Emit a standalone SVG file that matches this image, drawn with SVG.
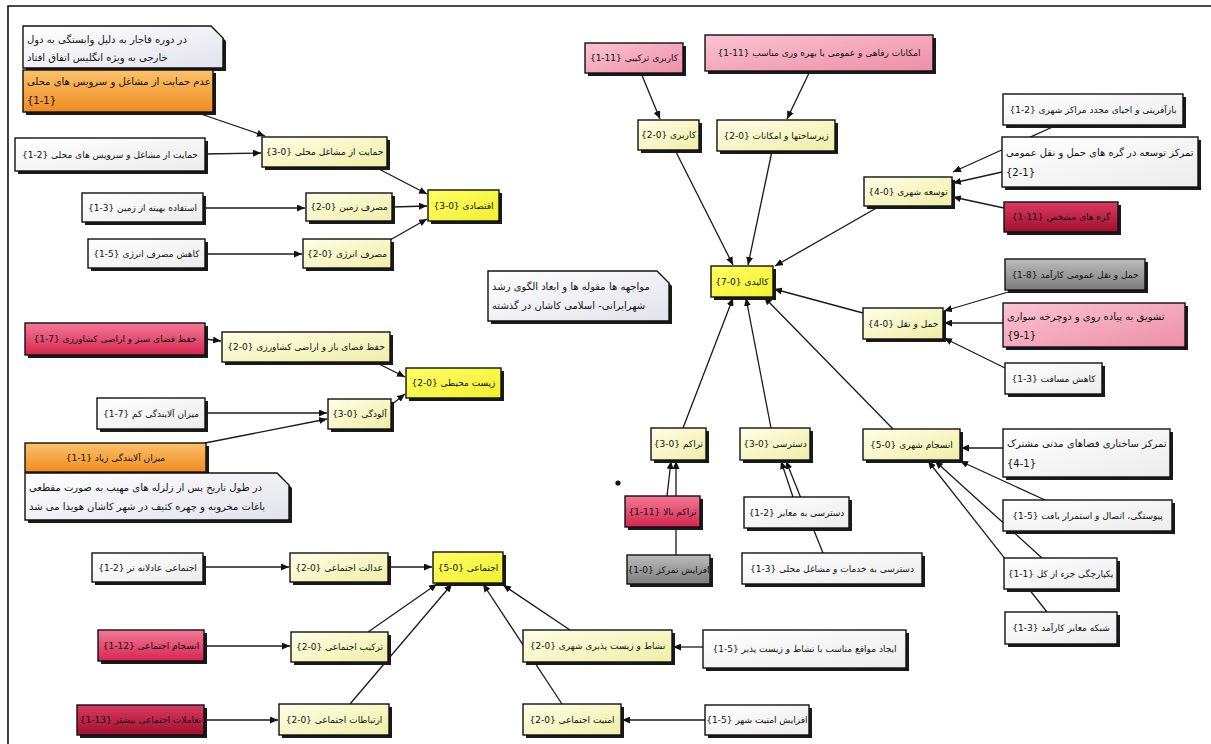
<svg xmlns="http://www.w3.org/2000/svg" width="1211" height="744" viewBox="0 0 1211 744">
<defs>
<linearGradient id="gLY" x1="0" y1="0" x2="1" y2="1"><stop offset="0" stop-color="#ffffe6"/><stop offset="1" stop-color="#eeeea8"/></linearGradient>
<linearGradient id="gYY" x1="0" y1="0" x2="1" y2="1"><stop offset="0" stop-color="#ffff66"/><stop offset="1" stop-color="#f0f030"/></linearGradient>
<linearGradient id="gWH" x1="0" y1="0" x2="1" y2="1"><stop offset="0" stop-color="#ffffff"/><stop offset="1" stop-color="#ececec"/></linearGradient>
<linearGradient id="gPK" x1="0" y1="0" x2="1" y2="1"><stop offset="0" stop-color="#f9c4d2"/><stop offset="1" stop-color="#ee8ea8"/></linearGradient>
<linearGradient id="gRD" x1="0" y1="0" x2="0" y2="1"><stop offset="0" stop-color="#f47a96"/><stop offset="1" stop-color="#d42550"/></linearGradient>
<linearGradient id="gDR" x1="0" y1="0" x2="0" y2="1"><stop offset="0" stop-color="#dc3a62"/><stop offset="1" stop-color="#a0102e"/></linearGradient>
<linearGradient id="gOR" x1="0" y1="0" x2="0" y2="1"><stop offset="0" stop-color="#fbc26a"/><stop offset="1" stop-color="#f08c20"/></linearGradient>
<linearGradient id="gGY" x1="0" y1="0" x2="0" y2="1"><stop offset="0" stop-color="#bcbcbc"/><stop offset="1" stop-color="#7c7c7c"/></linearGradient>
<linearGradient id="gNT" x1="0" y1="0" x2="1" y2="1"><stop offset="0" stop-color="#ffffff"/><stop offset="1" stop-color="#e2e2ec"/></linearGradient>
<marker id="ar" markerUnits="userSpaceOnUse" markerWidth="8" markerHeight="7" refX="8" refY="3.5" orient="auto"><path d="M0,0 L8,3.5 L0,7 z" fill="#111"/></marker>
<style>
.b{stroke:#111;stroke-width:1.4}
.sh{fill:#1a1a1a}
.ly{fill:url(#gLY)}.yy{fill:url(#gYY)}.wh{fill:url(#gWH)}.pk{fill:url(#gPK)}
.rd{fill:url(#gRD)}.dr{fill:url(#gDR)}.or{fill:url(#gOR)}.gy{fill:url(#gGY)}.nt{fill:url(#gNT)}
.t{font-family:"DejaVu Sans",sans-serif;font-size:9px;fill:#111;text-anchor:middle}
.tl{font-family:"DejaVu Sans",sans-serif;font-size:10px;fill:#111;text-anchor:start}
.c{fill:none;stroke:#1a1a1a;stroke-width:1.3;marker-end:url(#ar)}
</style>
</defs>
<rect x="0" y="0" width="1211" height="744" fill="#ffffff"/>
<path d="M8,744 V6 H1211" fill="none" stroke="#111" stroke-width="1.6"/>

<g id="connectors">
<line class="c" x1="195" y1="112" x2="265" y2="136"/>
<line class="c" x1="205" y1="154" x2="261" y2="153"/>
<line class="c" x1="375" y1="167" x2="427" y2="194"/>
<line class="c" x1="203" y1="208" x2="305" y2="208"/>
<line class="c" x1="392" y1="207" x2="427" y2="206"/>
<line class="c" x1="205" y1="254" x2="302" y2="254"/>
<line class="c" x1="390" y1="240" x2="427" y2="219"/>
<line class="c" x1="205" y1="339" x2="221" y2="341"/>
<line class="c" x1="375" y1="362" x2="405" y2="377"/>
<line class="c" x1="205" y1="413" x2="327" y2="413"/>
<line class="c" x1="205" y1="443" x2="327" y2="419"/>
<line class="c" x1="391" y1="405" x2="405" y2="394"/>
<line class="c" x1="203" y1="567" x2="289" y2="567"/>
<line class="c" x1="388" y1="567" x2="432" y2="567"/>
<line class="c" x1="204" y1="646" x2="290" y2="646"/>
<line class="c" x1="368" y1="632" x2="437" y2="584"/>
<line class="c" x1="204" y1="720" x2="278" y2="720"/>
<line class="c" x1="350" y1="704" x2="452" y2="584"/>
<line class="c" x1="570" y1="630" x2="503" y2="585"/>
<line class="c" x1="562" y1="704" x2="483" y2="584"/>
<line class="c" x1="703" y1="647" x2="673" y2="647"/>
<line class="c" x1="705" y1="720" x2="622" y2="720"/>
<line class="c" x1="641" y1="73" x2="660" y2="119"/>
<line class="c" x1="810" y1="71" x2="787" y2="119"/>
<line class="c" x1="675" y1="150" x2="733" y2="265"/>
<line class="c" x1="772" y1="151" x2="748" y2="265"/>
<line class="c" x1="880" y1="206" x2="775" y2="266"/>
<line class="c" x1="863" y1="313" x2="774" y2="289"/>
<line class="c" x1="893" y1="429" x2="764" y2="297"/>
<line class="c" x1="771" y1="428" x2="746" y2="298"/>
<line class="c" x1="683" y1="428" x2="733" y2="298"/>
<line class="c" x1="667" y1="496" x2="671" y2="461"/>
<line class="c" x1="676" y1="555" x2="676" y2="461"/>
<line class="c" x1="793" y1="497" x2="781" y2="461"/>
<line class="c" x1="823" y1="553" x2="786" y2="461"/>
<line class="c" x1="1057" y1="125" x2="953" y2="172"/>
<line class="c" x1="1002" y1="172" x2="953" y2="183"/>
<line class="c" x1="1004" y1="208" x2="953" y2="197"/>
<line class="c" x1="1015" y1="290" x2="944" y2="311"/>
<line class="c" x1="1003" y1="323" x2="944" y2="323"/>
<line class="c" x1="1005" y1="368" x2="944" y2="338"/>
<line class="c" x1="1003" y1="448" x2="961" y2="448"/>
<line class="c" x1="1045" y1="500" x2="960" y2="461"/>
<line class="c" x1="1042" y1="558" x2="935" y2="461"/>
<line class="c" x1="1047" y1="612" x2="928" y2="461"/>
</g>

<circle cx="618" cy="483" r="2.6" fill="#111"/>

<g id="note1"><path class="sh" d="M26,29 H214 L226,41 V71 H26 Z"/><path class="b nt" d="M23,26 H211 L223,38 V68 H23 Z"/><text class="tl" x="27" y="43">در دوره قاجار به دلیل وابستگی به دول</text><text class="tl" x="27" y="61">خارجی به ویژه انگلیس اتفاق افتاد</text></g>
<g id="n_orange1"><rect class="sh" x="26" y="73" width="190" height="42"/><rect class="b or" x="23" y="70" width="190" height="42"/><text class="tl" x="27" y="85">عدم حمایت از مشاغل و سرویس های محلی</text><text class="tl" x="27" y="104">{1-1}</text></g>
<g id="n_localjobs"><rect class="sh" x="265" y="140" width="125" height="30"/><rect class="b ly" x="262" y="137" width="125" height="30"/><text class="t" x="324.5" y="155">حمایت از مشاغل محلی {0-3}</text></g>
<g id="n_leafA"><rect class="sh" x="18" y="141" width="190" height="33"/><rect class="b wh" x="15" y="138" width="190" height="33"/><text class="t" x="110" y="158">حمایت از مشاغل و سرویس های محلی {2-1}</text></g>
<g id="n_land"><rect class="sh" x="85" y="196" width="121" height="29"/><rect class="b wh" x="82" y="193" width="121" height="29"/><text class="t" x="142.5" y="211">استفاده بهینه از زمین {3-1}</text></g>
<g id="n_landuse"><rect class="sh" x="309" y="196" width="86" height="28"/><rect class="b ly" x="306" y="193" width="86" height="28"/><text class="t" x="349" y="210">مصرف زمین {0-2}</text></g>
<g id="n_econ"><rect class="sh" x="431" y="193" width="71" height="31"/><rect class="b yy" x="428" y="190" width="71" height="31"/><text class="t" x="463.5" y="209">اقتصادی {0-3}</text></g>
<g id="n_energyLeaf"><rect class="sh" x="91" y="242" width="117" height="29"/><rect class="b wh" x="88" y="239" width="117" height="29"/><text class="t" x="146.5" y="257">کاهش مصرف انرژی {5-1}</text></g>
<g id="n_energy"><rect class="sh" x="306" y="242" width="88" height="29"/><rect class="b ly" x="303" y="239" width="88" height="29"/><text class="t" x="347" y="257">مصرف انرژی {0-2}</text></g>

<g id="n_green"><rect class="sh" x="28" y="326" width="180" height="32"/><rect class="b rd" x="25" y="323" width="180" height="32"/><text class="t" x="115" y="342">حفظ فضای سبز و اراضی کشاورزی {7-1}</text></g>
<g id="n_open"><rect class="sh" x="225" y="335" width="168" height="30"/><rect class="b ly" x="222" y="332" width="168" height="30"/><text class="t" x="306" y="350">حفظ فضای باز و اراضی کشاورزی {0-2}</text></g>
<g id="n_env"><rect class="sh" x="409" y="371" width="95" height="30"/><rect class="b yy" x="406" y="368" width="95" height="30"/><text class="t" x="453.5" y="386">زیست محیطی {0-2}</text></g>
<g id="n_lowPoll"><rect class="sh" x="100" y="401" width="108" height="31"/><rect class="b wh" x="97" y="398" width="108" height="31"/><text class="t" x="151" y="417">میزان آلایندگی کم {7-1}</text></g>
<g id="n_poll"><rect class="sh" x="331" y="402" width="63" height="30"/><rect class="b ly" x="328" y="399" width="63" height="30"/><text class="t" x="359.5" y="417">آلودگی {0-3}</text></g>
<g id="n_highPoll"><rect class="sh" x="28" y="446" width="181" height="29"/><rect class="b or" x="25" y="443" width="181" height="29"/><text class="t" x="115.5" y="461">میزان آلایندگی زیاد {1-1}</text></g>
<g id="note2"><path class="sh" d="M28,476 H280 L292,488 V523 H28 Z"/><path class="b nt" d="M25,473 H277 L289,485 V520 H25 Z"/><text class="tl" x="29" y="491">در طول تاریخ پس از زلزله های مهیب به صورت مقطعی</text><text class="tl" x="29" y="510">باغات مخروبه و چهره کثیف در شهر کاشان هویدا می شد</text></g>

<g id="n_fair"><rect class="sh" x="95" y="556" width="111" height="29"/><rect class="b wh" x="92" y="553" width="111" height="29"/><text class="t" x="147.5" y="571">اجتماعی عادلانه تر {2-1}</text></g>
<g id="n_justice"><rect class="sh" x="293" y="556" width="98" height="29"/><rect class="b ly" x="290" y="553" width="98" height="29"/><text class="t" x="339" y="571">عدالت اجتماعی {0-2}</text></g>
<g id="n_cohesion"><rect class="sh" x="101" y="633" width="106" height="31"/><rect class="b rd" x="98" y="630" width="106" height="31"/><text class="t" x="151" y="649">انسجام اجتماعی {12-1}</text></g>
<g id="n_mix"><rect class="sh" x="294" y="635" width="97" height="30"/><rect class="b ly" x="291" y="632" width="97" height="30"/><text class="t" x="339.5" y="650">ترکیب اجتماعی {0-2}</text></g>
<g id="n_interact"><rect class="sh" x="80" y="708" width="127" height="30"/><rect class="b dr" x="77" y="705" width="127" height="30"/><text class="t" x="140.5" y="723">تعاملات اجتماعی بیشتر {13-1}</text></g>
<g id="n_relations"><rect class="sh" x="282" y="707" width="110" height="31"/><rect class="b ly" x="279" y="704" width="110" height="31"/><text class="t" x="334" y="723">ارتباطات اجتماعی {0-2}</text></g>
<g id="n_social"><rect class="sh" x="436" y="555" width="70" height="31"/><rect class="b yy" x="433" y="552" width="70" height="31"/><text class="t" x="468" y="571">اجتماعی {0-5}</text></g>
<g id="n_vital"><rect class="sh" x="526" y="633" width="149" height="32"/><rect class="b ly" x="523" y="630" width="149" height="32"/><text class="t" x="597.5" y="649">نشاط و زیست پذیری شهری {0-2}</text></g>
<g id="n_security"><rect class="sh" x="526" y="707" width="98" height="31"/><rect class="b ly" x="523" y="704" width="98" height="31"/><text class="t" x="572" y="723">امنیت اجتماعی {0-2}</text></g>
<g id="n_create"><rect class="sh" x="706" y="633" width="203" height="38"/><rect class="b wh" x="703" y="630" width="203" height="38"/><text class="t" x="804.5" y="652">ایجاد مواقع مناسب با نشاط و زیست پذیر {5-1}</text></g>
<g id="n_secUp"><rect class="sh" x="708" y="708" width="104" height="30"/><rect class="b wh" x="705" y="705" width="104" height="30"/><text class="t" x="757" y="723">افزایش امنیت شهر {5-1}</text></g>

<g id="n_mixuse"><rect class="sh" x="588" y="46" width="98" height="30"/><rect class="b pk" x="585" y="43" width="98" height="30"/><text class="t" x="634" y="61">کاربری ترکیبی {11-1}</text></g>
<g id="n_amenity"><rect class="sh" x="708" y="38" width="228" height="36"/><rect class="b pk" x="705" y="35" width="228" height="36"/><text class="t" x="819" y="56">امکانات رفاهی و عمومی با بهره وری مناسب {11-1}</text></g>
<g id="n_landuse2"><rect class="sh" x="641" y="123" width="61" height="30"/><rect class="b ly" x="638" y="120" width="61" height="30"/><text class="t" x="668.5" y="138">کاربری {0-2}</text></g>
<g id="n_infra"><rect class="sh" x="720" y="123" width="118" height="31"/><rect class="b ly" x="717" y="120" width="118" height="31"/><text class="t" x="776" y="139">زیرساختها و امکانات {0-2}</text></g>
<g id="n_hub"><rect class="sh" x="714" y="269" width="62" height="31"/><rect class="b yy" x="711" y="266" width="62" height="31"/><text class="t" x="742" y="285">کالبدی {0-7}</text></g>
<g id="note3"><path class="sh" d="M491,274 H660 L672,286 V324 H491 Z"/><path class="b nt" d="M488,271 H657 L669,283 V321 H488 Z"/><text class="tl" x="492" y="290">مواجهه ها مقوله ها و ابعاد الگوی رشد</text><text class="tl" x="492" y="309">شهرایرانی- اسلامی کاشان در گذشته</text></g>
<g id="n_density"><rect class="sh" x="654" y="431" width="55" height="32"/><rect class="b ly" x="651" y="428" width="55" height="32"/><text class="t" x="678.5" y="447">تراکم {0-3}</text></g>
<g id="n_access"><rect class="sh" x="743" y="431" width="70" height="32"/><rect class="b ly" x="740" y="428" width="70" height="32"/><text class="t" x="775" y="447">دسترسی {0-3}</text></g>
<g id="n_highDens"><rect class="sh" x="628" y="499" width="75" height="31"/><rect class="b rd" x="625" y="496" width="75" height="31"/><text class="t" x="662.5" y="515">تراکم بالا {11-1}</text></g>
<g id="n_concentr"><rect class="sh" x="630" y="558" width="83" height="29"/><rect class="b gy" x="627" y="555" width="83" height="29"/><text class="t" x="668.5" y="573">افزایش تمرکز {0-1}</text></g>
<g id="n_accRoads"><rect class="sh" x="747" y="500" width="105" height="31"/><rect class="b wh" x="744" y="497" width="105" height="31"/><text class="t" x="796.5" y="516">دسترسی به معابر {2-1}</text></g>
<g id="n_accServ"><rect class="sh" x="745" y="556" width="180" height="31"/><rect class="b wh" x="742" y="553" width="180" height="31"/><text class="t" x="832" y="572">دسترسی به خدمات و مشاغل محلی {3-1}</text></g>

<g id="n_regen"><rect class="sh" x="1006" y="97" width="180" height="31"/><rect class="b wh" x="1003" y="94" width="180" height="31"/><text class="t" x="1093" y="113">بازآفرینی و احیای مجدد مراکز شهری {2-1}</text></g>
<g id="n_tod"><rect class="sh" x="1005" y="140" width="196" height="50"/><rect class="b wh" x="1002" y="137" width="196" height="50"/><text class="tl" x="1006" y="156">تمرکز توسعه در گره های حمل و نقل عمومی</text><text class="tl" x="1006" y="176">{2-1}</text></g>
<g id="n_nodes"><rect class="sh" x="1007" y="205" width="114" height="30"/><rect class="b dr" x="1004" y="202" width="114" height="30"/><text class="t" x="1061" y="220">گره های مشخص {11-1}</text></g>
<g id="n_urbanDev"><rect class="sh" x="867" y="180" width="88" height="29"/><rect class="b ly" x="864" y="177" width="88" height="29"/><text class="t" x="908" y="195">توسعه شهری {0-4}</text></g>
<g id="n_pt"><rect class="sh" x="1008" y="262" width="140" height="31"/><rect class="b gy" x="1005" y="259" width="140" height="31"/><text class="t" x="1075" y="278">حمل و نقل عمومی کارآمد {8-1}</text></g>
<g id="n_walk"><rect class="sh" x="1006" y="306" width="182" height="44"/><rect class="b pk" x="1003" y="303" width="182" height="44"/><text class="tl" x="1007" y="320">تشویق به پیاده روی و دوچرخه سواری</text><text class="tl" x="1007" y="339">{9-1}</text></g>
<g id="n_transport"><rect class="sh" x="866" y="311" width="80" height="31"/><rect class="b ly" x="863" y="308" width="80" height="31"/><text class="t" x="903" y="327">حمل و نقل {0-4}</text></g>
<g id="n_dist"><rect class="sh" x="1008" y="366" width="97" height="31"/><rect class="b wh" x="1005" y="363" width="97" height="31"/><text class="t" x="1053.5" y="382">کاهش مسافت {3-1}</text></g>
<g id="n_cohesionU"><rect class="sh" x="866" y="432" width="97" height="31"/><rect class="b ly" x="863" y="429" width="97" height="31"/><text class="t" x="911.5" y="448">انسجام شهری {0-5}</text></g>
<g id="n_civic"><rect class="sh" x="1006" y="432" width="167" height="48"/><rect class="b wh" x="1003" y="429" width="167" height="48"/><text class="tl" x="1007" y="447">تمرکز ساختاری فضاهای مدنی مشترک</text><text class="tl" x="1007" y="467">{4-1}</text></g>
<g id="n_cont"><rect class="sh" x="1006" y="503" width="169" height="31"/><rect class="b wh" x="1003" y="500" width="169" height="31"/><text class="t" x="1087.5" y="519">پیوستگی، اتصال و استمرار بافت {5-1}</text></g>
<g id="n_integr"><rect class="sh" x="1007" y="561" width="113" height="31"/><rect class="b wh" x="1004" y="558" width="113" height="31"/><text class="t" x="1060.5" y="577">یکپارچگی جزء از کل {1-1}</text></g>
<g id="n_network"><rect class="sh" x="1008" y="615" width="112" height="32"/><rect class="b wh" x="1005" y="612" width="112" height="32"/><text class="t" x="1061" y="631">شبکه معابر کارآمد {3-1}</text></g>
</svg>
